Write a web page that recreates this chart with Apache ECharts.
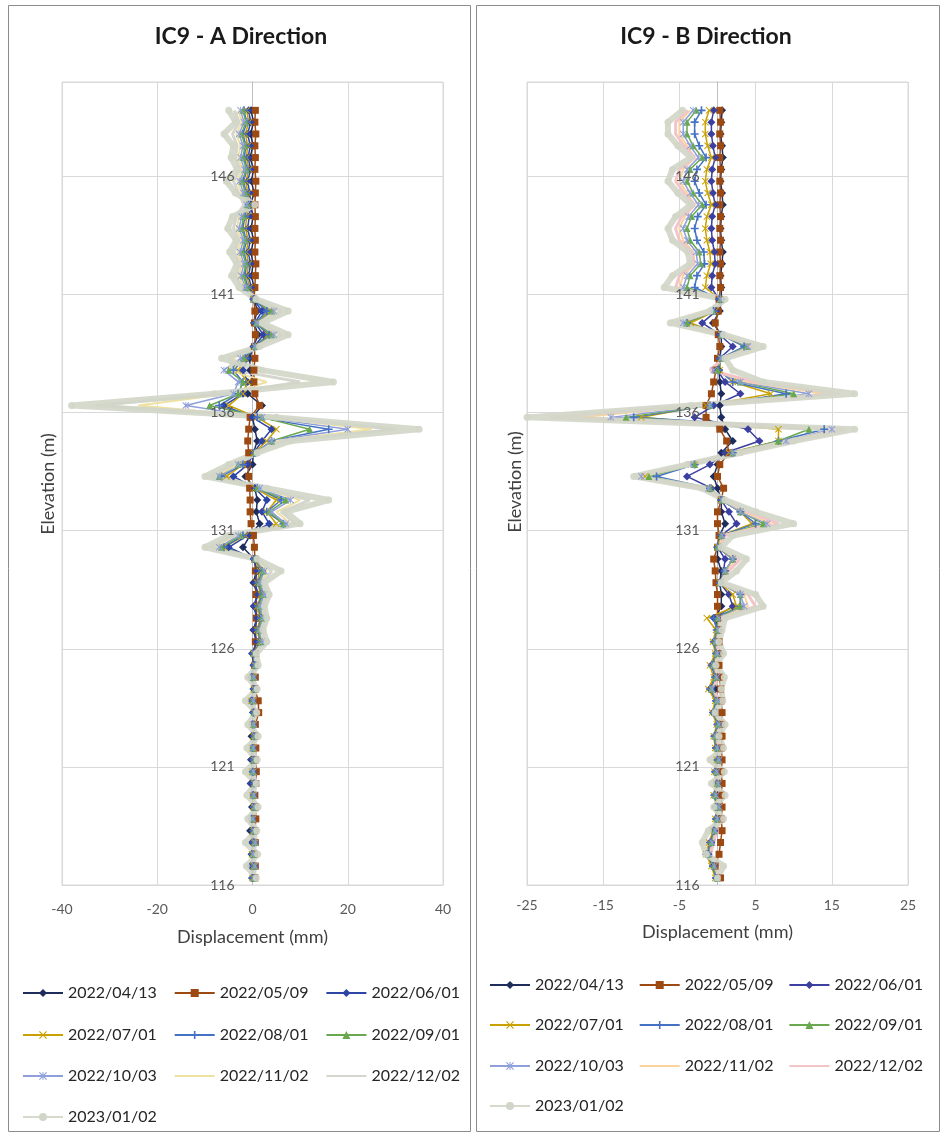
<!DOCTYPE html>
<html>
<head>
<meta charset="utf-8">
<script src="https://cdn.jsdelivr.net/npm/echarts@6/dist/echarts.min.js"></script>
<style>
  html, body { margin: 0; padding: 0; background: #fff; }
  #chart { width: 944px; height: 1133px; }
</style>
</head>
<body>
<div id="chart"></div>
<script>
// Inclinometer IC9: cumulative displacement profiles (mm) against elevation (m)

const ELEV = [
  148.8,148.3,147.8,147.3,146.8,146.3,145.8,145.3,144.8,144.3,143.8,
  143.3,142.8,142.3,141.8,141.3,140.8,140.3,139.8,139.3,138.8,138.3,
  137.8,137.3,136.8,136.3,135.8,135.3,134.8,134.3,133.8,133.3,132.8,
  132.3,131.8,131.3,130.8,130.3,129.8,129.3,128.8,128.3,127.8,127.3,
  126.8,126.3,125.8,125.3,124.8,124.3,123.8,123.3,122.8,122.3,121.8,
  121.3,120.8,120.3,119.8,119.3,118.8,118.3,117.8,117.3,116.8,116.3
];

const READINGS = ['2022/04/13','2022/05/09','2022/06/01','2022/07/01','2022/08/01',
                  '2022/09/01','2022/10/03','2022/11/02','2022/12/02','2023/01/02'];

const A_TICKS = [-40, -20, 0, 20, 40];
const B_TICKS = [-25, -15, -5, 5, 15, 25];
const ELEV_TICKS = [116, 121, 126, 131, 136, 141, 146];

// ---- A direction ----
const a0413 = [
  -0.3,0.2,-0.4,0.1,-0.5,0.2,-0.2,0.3,-0.4,0.1,-0.3,
  0.2,-0.3,0.1,-0.2,0.3,0.4,1.0,0.3,1.2,0.2,-0.6,
  -0.5,0,-1,2,0,0.5,1,0.2,0,-1.5,0.5,
  1,0.8,1.5,-0.5,-2,0.3,0.8,0.2,1,0.3,0.9,
  0.2,0.8,0.1,0.3,-0.2,0.2,-0.3,0.1,0.4,-0.2,0.2,
  -0.3,0.1,-0.4,0.2,-0.1,0.3,-0.5,0.1,-0.2,0.3,-0.1
];
const a0509 = [
  0.6,0.5,0.7,0.5,0.6,0.5,0.7,0.6,0.5,0.6,0.5,
  0.6,0.5,0.7,0.6,0.5,0.3,0.5,0.4,0.6,0.4,0.5,
  0.3,0.3,0.5,1.5,-0.5,-0.8,-1,-0.8,-1,-0.8,-0.6,
  -0.5,-0.5,-0.3,0.2,0.4,0.5,0.6,0.8,0.7,0.9,0.8,
  0.7,0.6,0.5,0.4,0.6,0.5,1.2,1.3,0.6,0.5,0.7,
  0.6,0.8,0.7,0.5,0.6,0.7,0.5,0.6,0.4,0.6,0.5
];
const a0601 = [
  -0.8,-0.4,-1,-0.5,-0.9,-0.4,-1,-0.6,-0.3,-0.7,-1,
  -0.5,-0.9,-0.4,-0.8,-0.3,0.2,2,0.5,2.3,0.4,-1,
  -2,-1,-2,-6,0,4,2,0.3,-1,-4,0.5,
  3,2,3.5,-1,-5,0.3,1,0.5,1.2,0.3,1,
  0.4,0.9,-0.1,0.2,-0.3,0.3,-0.2,0.2,-0.1,0.3,0,
  -0.2,0.2,-0.3,0.1,0.2,-0.2,0.1,-0.1,0.3,-0.4,0.2
];
const a0701 = [
  -1.2,-0.8,-1.5,-1,-1.3,-0.7,-1.4,-1,-0.6,-1.2,-1.5,
  -0.9,-1.3,-0.8,-1.2,-0.6,0.3,3.5,0.8,3.2,0.5,-1.5,
  -3,-1,-2,-5,1,5,3,0.3,-2,-5.5,0.5,
  5,3,5,-1.5,-6,0.5,1.5,1,1.8,1,1.6,
  1,1.5,0.2,0.4,0,0.3,-0.2,0.3,0,0.2,-0.1,
  0.2,-0.1,0.3,0,0.2,-0.2,0.1,0.3,-0.1,0.2,0
];
const a0801 = [
  -1.8,-1.2,-2,-1.4,-1.7,-1.1,-1.9,-1.3,-0.8,-1.6,-2,
  -1.3,-1.8,-1.2,-1.6,-1,0.2,3,0.6,3.5,0.4,-1.5,
  -4,-2,-3,-7,1,16,4,0.5,-2,-6.5,1,
  6,3,6.5,-2,-6,0.5,2,1.2,2,1.2,1.8,
  1.2,1.6,0.3,0.5,0.1,0.4,0,0.3,0.1,0.4,0,
  0.3,0,0.4,0.1,0.3,-0.1,0.2,0.4,0,0.3,0.1
];
const a0901 = [
  -2,-1.4,-2.3,-1.6,-2,-1.3,-2.2,-1.5,-1,-1.9,-2.3,
  -1.5,-2.1,-1.4,-1.9,-1.2,0.3,4,0.8,4,0.5,-1.8,
  -5,-2,-3,-9,2,12,4,0.5,-3,-7,1,
  7,3.5,6.5,-2.5,-6.5,0.5,2.2,1.4,2.2,1.4,2,
  1.3,1.8,0.4,0.6,0.2,0.5,0.1,0.4,0.2,0.5,0.1,
  0.4,0.1,0.5,0.2,0.4,0,0.3,0.5,0.1,0.4,0.2
];
const a1003 = [
  -2.5,-1.8,-2.8,-2,-2.5,-1.7,-2.7,-1.9,-1.2,-2.3,-2.8,
  -1.9,-2.6,-1.8,-2.4,-1.5,0.4,4.5,1,4.5,0.6,-2.5,
  -6,-3,-4,-14,2,20,4,0.8,-3,-7,1.5,
  8,4,7,-3,-7,0.6,2.5,1.6,2.5,1.6,2.2,
  1.5,2,0.5,0.7,0.3,0.6,0.2,0.5,0.3,0.6,0.2,
  0.5,0.2,0.6,0.3,0.5,0.1,0.4,0.6,0.2,0.5,0.3
];
const a1102 = [
  -3,-2.2,-3.4,-2.5,-3,-2.1,-3.2,-2.3,-1.5,-2.8,-3.3,
  -2.3,-3.1,-2.2,-2.9,-1.8,0.5,5,1.2,5,0.8,-4,
  -5,3,-5,-24,3,25,5,1,-3,-8,2,
  10,5,8,-3.5,-8,0.8,3,2,2.8,2,2.5,
  1.8,2.2,0.6,0.8,0.4,0.7,0.3,0.6,0.4,0.7,0.3,
  0.6,0.3,0.7,0.4,0.6,0.2,0.5,0.7,0.3,0.6,0.4
];
const a1202 = [
  -3.8,-2.8,-4.2,-3.2,-3.6,-2.6,-4,-2.9,-1.8,-3.4,-4,
  -2.8,-3.8,-2.7,-3.5,-2.2,0.6,6,1.5,6,1,-5,
  -4,10,-6,-33,5,30,6,1,-4,-9,2,
  12,6,9,-4,-9,1,4,2.2,3,2.2,2.8,
  2,2.5,0.5,0.9,0.3,0.8,0.2,0.7,0.3,0.8,0.2,
  0.7,0.2,0.8,0.3,0.7,0.1,0.6,0.8,0.2,0.7,0.3
];
const a0102 = [
  -5,-3.5,-6,-4,-4.5,-3.2,-5.5,-3.6,0.5,-4.2,-5.2,
  -3.4,-4.8,-3.3,-4.4,-2.8,0.8,7.5,2,7.5,1.5,-6.5,
  2,17,-8,-38,5,35,8,1,-5,-10,3,
  16,7,10,-5,-10,1,6,2.5,3.5,2.5,3,
  2.2,3,0.8,1.2,-1,1,-1.5,0.9,-1,1.2,-1.2,
  1,-1.5,0.8,-1.2,1.2,-1,0.9,-1.5,1.1,-1.3,0.8
];

// ---- B direction ----
const b0413 = [
  0.6,0.5,0.4,0.6,0.7,0.5,0.4,0.6,0.7,0.5,0.4,
  0.5,0.7,0.6,0.4,0.5,0.5,0.3,-0.6,0.5,0.5,0.3,
  0.2,0.3,0.5,0.3,0.5,1,2,0.5,0,-0.5,0,
  0.5,0.5,1,0.3,0,0,0.5,0.3,0.5,0.5,-0.3,
  0.2,-0.2,0.3,-0.4,0,-0.3,0.2,-0.2,0.3,0,-0.2,
  0.3,-0.1,0.2,0,-0.3,0.2,-0.4,-0.8,-1.2,-0.5,0
];
const b0509 = [
  0.3,0.4,0.3,0.4,0.3,0.4,0.3,0.4,0.3,0.4,0.3,
  0.4,0.3,0.4,0.3,0.4,0.2,0.1,-0.3,0.1,0.3,0,
  -0.2,-0.5,-0.8,-1.5,-1.5,0.3,1.2,1.5,0.3,0,0.8,
  0.5,0,0,0.2,0,-0.5,-0.3,-0.2,0,0,0,
  0.1,0.2,0.1,0.2,0.3,0.4,0.5,0.6,0.5,0.6,0.5,
  0.6,0.5,0.6,0.5,0.6,0.5,0.6,0.4,0.2,-0.3,0.4
];
const b0601 = [
  -0.5,-0.8,-0.8,-0.6,-0.3,-0.7,-0.8,-0.6,-0.3,-0.7,-0.8,
  -0.7,-0.4,-0.3,-0.7,-0.8,0.2,-0.2,-2,0.3,2,0.3,
  0,1,3,-0.5,-3,4,5.5,1,-1,-4,-0.8,
  0.5,1.5,2.5,0.5,0,1,0.8,0.3,1.5,2,-0.5,
  0,-0.5,-0.2,-0.8,-0.3,-1,-0.2,-0.6,0,-0.4,-0.2,
  0,-0.3,-0.1,-0.4,0,-0.2,-0.5,-1,-1.5,-0.6,-0.2
];
const b0701 = [
  -1.1,-1.6,-1.6,-1.3,-0.8,-1.4,-1.6,-1.3,-0.8,-1.4,-1.6,
  -1.4,-1,-0.9,-1.4,-1.6,0.3,-0.3,-3.5,0.5,3.8,0.4,
  0.3,2,7,-1.5,-10,8,8,1.5,-3,-9.5,-1,
  0.5,3,4.5,0.5,0,2,1,0.3,2,2.5,-1.4,
  -0.2,-0.6,-0.3,-1,-0.5,-1.2,-0.3,-0.7,-0.1,-0.5,-0.3,
  -0.1,-0.4,-0.2,-0.5,-0.1,-0.3,-0.6,-1.1,-1.5,-0.8,-0.3
];
const b0801 = [
  -2.1,-3,-3,-2.4,-1.5,-2.7,-3,-2.4,-1.5,-2.6,-3,
  -2.7,-1.8,-1.7,-2.7,-3,0.3,-0.5,-4,0.5,3.5,0.4,
  0.2,2,9,-1,-11,14,8,2,-3,-8,-1,
  0.5,3,5,0.5,0,2,1,0.3,3,3,-0.5,
  -0.1,-0.4,-0.2,-0.7,-0.3,-0.9,-0.2,-0.5,0,-0.4,-0.2,
  0,-0.3,-0.1,-0.4,0,-0.2,-0.5,-0.9,-1.3,-0.6,-0.2
];
const b0901 = [
  -2.8,-4,-4,-3.2,-2,-3.6,-4,-3.2,-2,-3.4,-4,
  -3.6,-2.4,-2.2,-3.6,-4,0.4,-0.6,-4,0.5,3.8,0.5,
  0,3,10,-1,-12,12,8,2,-3,-9,-1,
  0.6,3,6,0.5,0,2,1,0.3,3,3,0,
  0,-0.3,-0.1,-0.6,-0.2,-0.8,-0.1,-0.4,0.1,-0.3,-0.1,
  0.1,-0.2,0,-0.3,0.1,-0.1,-0.4,-0.8,-1.2,-0.5,-0.1
];
const b1003 = [
  -3.2,-4.5,-4.5,-3.6,-2.5,-4,-4.5,-3.6,-2.5,-3.8,-4.5,
  -4,-2.8,-2.6,-4,-4.5,0.4,-0.7,-4.5,0.6,4,0.5,
  -0.5,3,12,-1,-14,15,9,2,-3.5,-10,-1.2,
  0.6,3,6.5,0.6,0.2,2,1,0.4,3,3.5,0.2,
  0.1,-0.2,0,-0.5,-0.1,-0.7,0,-0.3,0.2,-0.2,0,
  0.2,-0.1,0.1,-0.2,0.2,0,-0.3,-0.7,-1.1,-0.4,0
];
const b1102 = [
  -3.6,-5,-5,-4,-3,-4.5,-5,-4,-3,-4.3,-5,
  -4.5,-3.2,-3,-4.5,-5,0.5,-0.8,-5,0.6,4.5,0.6,
  -0.8,4,14,-2,-18,16,9,2.5,-3.5,-10,-1.5,
  0.8,3.5,7,0.6,0.2,2.5,1.2,0.4,3.5,4,0.3,
  0.2,-0.1,0.1,-0.4,0,-0.6,0.1,-0.2,0.3,-0.1,0.1,
  0.3,0,0.2,-0.1,0.3,0.1,-0.2,-0.6,-1,-0.3,0.1
];
const b1202 = [
  -3.9,-5.5,-5.5,-4.4,-3,-5,-5.5,-4.4,-3,-4.7,-5.5,
  -5,-3.3,-3.1,-5,-5.5,0.5,-0.9,-5.5,0.7,5,0.8,
  -1,5,16,-3,-22,17,10,3,-4,-10.5,-2,
  0.9,4,8,1,0.3,3,1.5,0.5,4,5,0.5,
  0.3,0,0.2,-0.3,0.1,-0.5,0.2,-0.1,0.4,0,0.2,
  0.4,0.1,0.3,0,0.4,0.2,-0.1,-0.5,-0.9,-0.2,0.2
];
const b0102 = [
  -4.6,-6.5,-6.5,-5.2,-3.5,-5.9,-6.5,-5.2,-3.5,-5.5,-6.5,
  -5.9,-3.9,-3.6,-5.9,-7,1,-1,-6.2,0.8,6,1,
  2,6,18,-3.5,-25,18,10,3,-4,-11,-2,
  1,5,10,2,0.5,3.8,2.5,0.5,5,6,1,
  0.6,0.2,0.8,-0.2,0.9,0.5,0.7,-0.3,1,0.2,0.8,
  -1,0.9,-0.8,1,-0.5,0.8,-1.2,-2,-1.5,0.8,0
];

// ---- drawing styles ----
const X_MARK = 'path://M1,0L5,4L9,0L10,1L6,5L10,9L9,10L5,6L1,10L0,9L4,5L0,1Z';
const PLUS_MARK = 'path://M4,0H6V4H10V6H6V10H4V6H0V4H4Z';
const STAR_MARK = 'path://M1,0L5,4L9,0L10,1L6,5L10,9L9,10L5,6L1,10L0,9L4,5L0,1Z M4.4,0H5.6V10H4.4Z';

const COLORS_A = ['#1f2d5c','#9c4a12','#2e45a6','#c9a100','#4472c4','#6aa84f','#8e9fd9','#efe1a2','#d6d6cf','#d2d6c8'];
const COLORS_B = ['#1f2d5c','#9c4a12','#3a3fa0','#c9a100','#4472c4','#6aa84f','#8e9fd9','#fbd39c','#f3c5c7','#d2d6c8'];

const LOOK = [
  { symbol: 'diamond', size: 8, width: 1.5 },
  { symbol: 'rect',    size: 7, width: 1.5 },
  { symbol: 'diamond', size: 8, width: 1.5 },
  { symbol: X_MARK,    size: 7, width: 1.5 },
  { symbol: PLUS_MARK, size: 8, width: 1.5 },
  { symbol: 'triangle',size: 7, width: 1.5 },
  { symbol: STAR_MARK, size: 7, width: 1.5 },
  { symbol: 'none',    size: 0, width: 2 },
  { symbol: 'none',    size: 0, width: 3 },
  { symbol: 'circle',  size: 7, width: 6, opacity: 0.9 }
];

const PANELS = [
  { values: [a0413,a0509,a0601,a0701,a0801,a0901,a1003,a1102,a1202,a0102], colors: COLORS_A },
  { values: [b0413,b0509,b0601,b0701,b0801,b0901,b1003,b1102,b1202,b0102], colors: COLORS_B }
];

const FONT = 'Lato';

const series = [];
PANELS.forEach((panel, p) => {
  panel.values.forEach((vals, k) => {
    const look = LOOK[k];
    const color = panel.colors[k];
    series.push({
      type: 'line',
      name: READINGS[k],
      xAxisIndex: p,
      yAxisIndex: p,
      data: vals.map((v, i) => [v, ELEV[i]]),
      symbol: look.symbol,
      symbolSize: look.size,
      showSymbol: look.symbol !== 'none',
      lineStyle: { color: color, width: look.width, opacity: look.opacity || 1 },
      itemStyle: { color: color, opacity: look.opacity || 1 },
      silent: true,
      animation: false
    });
  });
});

function xAxisFor(p, ticks, labelMargin, nameGap) {
  return {
    gridIndex: p,
    type: 'value',
    min: ticks[0],
    max: ticks[ticks.length - 1],
    interval: ticks[1] - ticks[0],
    axisLine: { show: true, onZero: false, lineStyle: { color: '#d9d9d9' } },
    axisTick: { show: false },
    axisLabel: { color: '#595959', fontSize: 14, fontFamily: FONT, margin: labelMargin },
    splitLine: { show: true, lineStyle: { color: '#d9d9d9', width: 1 } },
    name: 'Displacement (mm)',
    nameLocation: 'middle',
    nameGap: nameGap,
    nameTextStyle: { color: '#404040', fontSize: 18, fontFamily: FONT }
  };
}

// The vertical axis crosses the displacement axis at 0 mm (centre of each plot).
// Axis line and gridlines sit under the profiles; tick labels sit above them.
function yAxisFor(p, labelsOnly) {
  return {
    gridIndex: p,
    type: 'value',
    position: 'left',
    offset: -190.5,
    min: ELEV_TICKS[0],
    max: 150,
    interval: ELEV_TICKS[1] - ELEV_TICKS[0],
    z: labelsOnly ? 10 : 0,
    axisLine: { show: !labelsOnly, onZero: false, lineStyle: { color: '#bfbfbf' } },
    axisTick: { show: false },
    axisLabel: { show: labelsOnly, color: '#595959', fontSize: 14, fontFamily: FONT, margin: 18, showMaxLabel: false },
    splitLine: { show: !labelsOnly, lineStyle: { color: '#d9d9d9', width: 1 } }
  };
}

const LEGEND_ROWS = [[0,1,2],[3,4,5],[6,7,8],[9]];
const LEGEND_TOPS = [[985, 1027, 1068, 1109], [977, 1017, 1058, 1098]];
const LEGEND_LEFT = [22, 489];
const LEGEND_GAP = [17, 15];

const legends = [];
[0, 1].forEach(p => {
  LEGEND_ROWS.forEach((row, r) => {
    legends.push({
      left: LEGEND_LEFT[p],
      top: LEGEND_TOPS[p][r],
      orient: 'horizontal',
      padding: 0,
      itemWidth: 40,
      itemHeight: 10,
      itemGap: LEGEND_GAP[p],
      selectedMode: false,
      textStyle: { fontFamily: FONT, fontSize: 16, color: '#262626', width: 92 },
      data: row.map(k => ({
        name: READINGS[k],
        itemStyle: { color: PANELS[p].colors[k], opacity: LOOK[k].symbol === 'none' ? 0 : 1 },
        lineStyle: { color: PANELS[p].colors[k] }
      }))
    });
  });
});

const chart = echarts.init(document.getElementById('chart'), null, { renderer: 'canvas' });

chart.setOption({
  backgroundColor: '#ffffff',
  animation: false,
  grid: [
    { left: 62, top: 82, width: 381, height: 803, show: true, borderColor: '#d9d9d9', borderWidth: 1, containLabel: false },
    { left: 527, top: 82, width: 381, height: 803, show: true, borderColor: '#d9d9d9', borderWidth: 1, containLabel: false }
  ],
  xAxis: [ xAxisFor(0, A_TICKS, 17, 43), xAxisFor(1, B_TICKS, 13, 38) ],
  yAxis: [ yAxisFor(0, false), yAxisFor(1, false), yAxisFor(0, true), yAxisFor(1, true) ],
  legend: legends,
  series: series,
  graphic: [
    { type: 'rect', shape: { x: 8.5, y: 5.5, width: 462, height: 1126 },
      style: { fill: 'none', stroke: '#8c8c8c', lineWidth: 1 }, silent: true },
    { type: 'rect', shape: { x: 476.5, y: 5.5, width: 463, height: 1126 },
      style: { fill: 'none', stroke: '#8c8c8c', lineWidth: 1 }, silent: true },
    { type: 'text', x: 241, y: 37,
      style: { text: 'IC9 - A Direction', font: 'bold 23px Lato', fill: '#1a1a1a',
               align: 'center', verticalAlign: 'middle', textAlign: 'center', textVerticalAlign: 'middle' } },
    { type: 'text', x: 706, y: 37,
      style: { text: 'IC9 - B Direction', font: 'bold 23px Lato', fill: '#1a1a1a',
               align: 'center', verticalAlign: 'middle', textAlign: 'center', textVerticalAlign: 'middle' } },
    { type: 'text', x: 48, y: 484, rotation: Math.PI / 2,
      style: { text: 'Elevation (m)', font: '18px Lato', fill: '#404040',
               align: 'center', verticalAlign: 'middle', textAlign: 'center', textVerticalAlign: 'middle' } },
    { type: 'text', x: 515, y: 482, rotation: Math.PI / 2,
      style: { text: 'Elevation (m)', font: '18px Lato', fill: '#404040',
               align: 'center', verticalAlign: 'middle', textAlign: 'center', textVerticalAlign: 'middle' } }
  ]
});
</script>
</body>
</html>
